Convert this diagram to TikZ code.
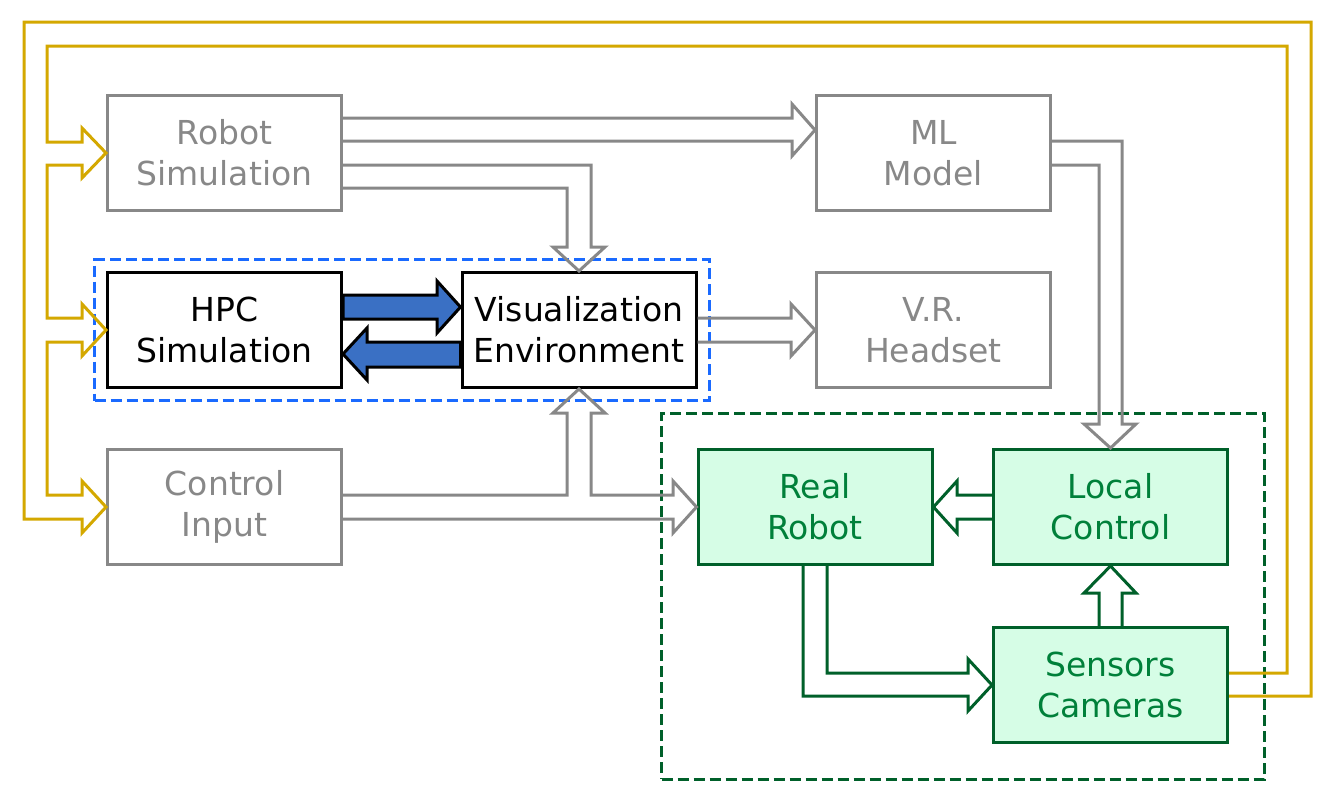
\documentclass[tikz,border=0pt]{standalone}
\usepackage{fontspec}
\setmainfont{DejaVu Sans}
\usetikzlibrary{fit}
\definecolor{greyc}{HTML}{888888}
\definecolor{greenfill}{HTML}{D6FDE6}
\definecolor{greenline}{HTML}{00602A}
\definecolor{greentext}{HTML}{00803A}
\definecolor{bluefill}{HTML}{3A70C4}
\definecolor{bluedash}{HTML}{1A6AFF}
\definecolor{yel}{HTML}{D4A800}
\begin{document}
\begin{tikzpicture}[x=1pt,y=-1pt,
  box/.style={draw, line width=3pt, minimum width=234pt, minimum height=115pt,
    align=center, font=\fontsize{33}{41}\selectfont, inner sep=0pt},
  greybox/.style={box, draw=greyc, text=greyc},
  blackbox/.style={box, draw=black, text=black},
  greenbox/.style={box, draw=greenline, fill=greenfill, text=greentext},
  garrow/.style={draw=greyc, line width=3pt, line join=miter},
  grarrow/.style={draw=greenline, line width=3pt, line join=miter},
  yarrow/.style={draw=yel, line width=3pt, line join=miter},
  barrow/.style={draw=black, fill=bluefill, line width=3pt, line join=miter},
  dashbox/.style={draw, line width=3pt, dash pattern=on 11pt off 5pt}
]
\useasboundingbox (0,0) rectangle (1335,803);

% nodes
\node[greybox]  (rs)  at (224.5,153) {Robot\\Simulation};
\node[greybox]  (ml)  at (933.5,153) {ML\\Model};
\node[blackbox] (hpc) at (224.5,330) {HPC\\Simulation};
\node[blackbox] (vis) at (579,330)   {Visualization\\Environment};
\node[greybox]  (vr)  at (933.5,330) {V.R.\\Headset};
\node[greybox]  (ci)  at (224.5,507) {Control\\Input};
\node[greenbox] (rr)  at (815,507)   {Real\\Robot};
\node[greenbox] (lc)  at (1110.5,507) {Local\\Control};
\node[greenbox] (sc)  at (1110.5,685) {Sensors\\Cameras};

% group boxes
\node[dashbox, draw=bluedash, fit=(hpc)(vis), inner sep=11.5pt] (gblue) {};
\node[dashbox, draw=greenline, fit=(rr)(lc)(sc), inner sep=35pt] (ggreen) {};

% grey hollow arrows
\draw[garrow] (rs.east |- 0,118) -- (792,118) -- (792,104) -- (ml.west |- 0,130) -- (792,156) -- (792,141) -- (rs.east |- 0,141);
\draw[garrow] (rs.east |- 0,165) -- (591,165) -- (591,247) -- (605,247) -- (vis.north) -- (553,247) -- (567,247) -- (567,188) -- (rs.east |- 0,188);
\draw[garrow] (vis.east |- 0,318) -- (791,318) -- (791,304) -- (vr.west) -- (791,356) -- (791,342) -- (vis.east |- 0,342);
\draw[garrow] (ml.east |- 0,141) -- (1122,141) -- (1122,424) -- (1136,424) -- (lc.north) -- (1084,424) -- (1099,424) -- (1099,165) -- (ml.east |- 0,165);
\draw[garrow] (ci.east |- 0,495) -- (567,495) -- (567,413) -- (553,413) -- (vis.south) -- (605,413) -- (591,413) -- (591,495) -- (673,495) -- (673,481) -- (rr.west) -- (673,533) -- (673,519) -- (ci.east |- 0,519);

% green hollow arrows
\draw[grarrow] (lc.west |- 0,495) -- (957,495) -- (957,481) -- (rr.east) -- (957,533) -- (957,519) -- (lc.west |- 0,519);
\draw[grarrow] (sc.north -| 1099,0) -- (1099,593) -- (1084,593) -- (lc.south) -- (1136,593) -- (1122,593) -- (sc.north -| 1122,0);
\draw[grarrow] (rr.south -| 803,0) -- (803,696) -- (968,696) -- (968,711) -- (sc.west) -- (968,659) -- (968,673) -- (827,673) -- (rr.south -| 827,0);

% yellow feedback arrow
\draw[yarrow] (sc.east |- 0,673) -- (1287,673) -- (1287,46) -- (47,46) -- (47,142)
  -- (82,142) -- (82,128) -- (rs.west) -- (82,178) -- (82,165) -- (47,165)
  -- (47,318) -- (82,318) -- (82,304) -- (hpc.west) -- (82,356) -- (82,342) -- (47,342)
  -- (47,495) -- (82,495) -- (82,481) -- (ci.west) -- (82,533) -- (82,519) -- (24,519)
  -- (24,22) -- (1311,22) -- (1311,696) -- (sc.east |- 0,696);

% blue solid arrows
\draw[barrow] (hpc.east |- 0,295) -- (437,295) -- (437,281) -- (vis.west |- 0,307) -- (437,333) -- (437,319) -- (hpc.east |- 0,319) -- cycle;
\draw[barrow] (vis.west |- 0,342) -- (367,342) -- (367,328) -- (hpc.east |- 0,354) -- (367,380) -- (367,367) -- (vis.west |- 0,367) -- cycle;
\end{tikzpicture}
\end{document}
